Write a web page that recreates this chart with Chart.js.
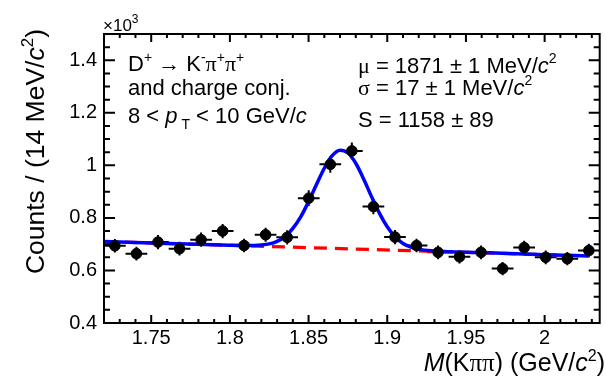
<!DOCTYPE html>
<html><head><meta charset="utf-8">
<script src="https://cdn.jsdelivr.net/npm/chart.js@4/dist/chart.umd.min.js"></script>
<style>html,body{margin:0;padding:0;background:#fff}#wrap{width:606px;height:380px}</style>
</head><body><div id="wrap"><canvas id="c" width="606" height="380"></canvas></div>
<script>
// ---- data ----
const massCenters = [1.7269,1.7406,1.7543,1.7680,1.7817,1.7954,1.8090,1.8227,1.8364,1.8501,1.8638,1.8775,1.8912,1.9049,1.9186,1.9323,1.9459,1.9596,1.9733,1.9870,2.0007,2.0144,2.0281];
const counts      = [0.694,0.664,0.708,0.683,0.717,0.750,0.695,0.736,0.726,0.875,1.004,1.055,0.843,0.727,0.695,0.669,0.652,0.669,0.607,0.687,0.650,0.645,0.676];
const countErr    = [0.026,0.026,0.027,0.026,0.027,0.027,0.026,0.027,0.027,0.030,0.032,0.032,0.029,0.027,0.026,0.026,0.026,0.026,0.025,0.026,0.026,0.025,0.026];
const binHalf = 0.0069;
const fitMass  = [1.720,1.760,1.800,1.810,1.820,1.825,1.830,1.835,1.840,1.845,1.850,1.855,1.860,1.865,1.870,1.875,1.880,1.885,1.890,1.895,1.900,1.905,1.910,1.920,1.930,1.960,2.000,2.028];
const fitTotal = [0.710,0.703,0.696,0.695,0.697,0.701,0.711,0.729,0.760,0.804,0.862,0.927,0.989,1.037,1.058,1.047,1.008,0.948,0.881,0.818,0.766,0.728,0.703,0.681,0.674,0.668,0.660,0.655];
const bgMass   = [1.720,2.028];
const bgValues = [0.710,0.655];
const xTickValues = [1.75,1.8,1.85,1.9,1.95,2.0];
const yTickValues = [0.4,0.6,0.8,1.0,1.2,1.4];

const SANS = '"Liberation Sans", Arial, "DejaVu Sans", sans-serif';
const SERIF = '"Liberation Serif", "DejaVu Serif", serif';

function rich(ctx, x, y, segs, align){
  let w = 0;
  segs.forEach(s => { ctx.font = s[1]; w += ctx.measureText(s[0]).width; });
  let cx = align === 'right' ? x - w : x;
  segs.forEach(s => { ctx.font = s[1]; ctx.fillText(s[0], cx, y + (s[2] || 0)); cx += ctx.measureText(s[0]).width; });
}

const decor = {
  id: 'decor',
  beforeDatasetsDraw(chart){
    const {ctx, scales:{x, y}} = chart;
    ctx.save();
    ctx.strokeStyle = '#000'; ctx.lineWidth = 2;
    massCenters.forEach((m, i) => {
      const px = x.getPixelForValue(m), py = y.getPixelForValue(counts[i]);
      const x0 = x.getPixelForValue(m - binHalf), x1 = x.getPixelForValue(m + binHalf);
      const y0 = y.getPixelForValue(counts[i] - countErr[i]), y1 = y.getPixelForValue(counts[i] + countErr[i]);
      ctx.beginPath();
      ctx.moveTo(x0, py); ctx.lineTo(x1, py);
      ctx.moveTo(px, y0); ctx.lineTo(px, y1);
      ctx.stroke();
    });
    ctx.restore();
  },
  afterDraw(chart){
    const {ctx, chartArea:a, scales:{x, y}} = chart;
    ctx.save();
    ctx.strokeStyle = '#000'; ctx.lineWidth = 2;
    ctx.strokeRect(a.left, a.top, a.right - a.left, a.bottom - a.top);
    ctx.beginPath();
    for (let k = 172; k <= 203; k++){
      const v = k / 100, px = x.getPixelForValue(v);
      const major = (k % 5 === 0);
      const L = major ? 8 : 4;
      ctx.moveTo(px, a.bottom); ctx.lineTo(px, a.bottom - L);
      ctx.moveTo(px, a.top); ctx.lineTo(px, a.top + L);
    }
    for (let k = 8; k <= 30; k++){
      const v = k * 0.05, py = y.getPixelForValue(v);
      const major = (k % 4 === 0);
      const L = major ? 11 : 6;
      ctx.moveTo(a.left, py); ctx.lineTo(a.left + L, py);
      ctx.moveTo(a.right, py); ctx.lineTo(a.right - L, py);
    }
    ctx.stroke();

    ctx.fillStyle = '#000';
    ctx.textBaseline = 'alphabetic';
    ctx.textAlign = 'left';
    const F = '22px ' + SANS, FI = 'italic 22px ' + SANS, FG = '22px ' + SERIF, FS = '14px ' + SANS;
    rich(ctx, 103, 31, [['×10', '17px ' + SANS], ['3', '12px ' + SANS, -8]]);
    rich(ctx, 128, 71, [['D', F], ['+', FS, -9], [' → K', F], ['-', FS, -9], ['π', FG], ['+', FS, -9], ['π', FG], ['+', FS, -9]]);
    rich(ctx, 128, 95, [['and charge conj.', F]]);
    rich(ctx, 128, 123, [['8 < ', F], ['p', FI], [' T', FS, 6], [' < 10 GeV/', F], ['c', FI]]);
    rich(ctx, 358, 73, [['μ', FG], [' = 1871 ± 1 MeV/', F], ['c', FI], ['2', FS, -10]]);
    rich(ctx, 358, 95, [['σ', FG], [' = 17 ± 1 MeV/', F], ['c', FI], ['2', FS, -10]]);
    rich(ctx, 358, 127, [['S = 1158 ± 89', F]]);
    const T = '25px ' + SANS, TI = 'italic 25px ' + SANS, TS = '16px ' + SANS;
    rich(ctx, 605, 371, [['M', TI], ['(K', T], ['ππ', '25px ' + SERIF], [') (GeV/', T], ['c', TI], ['2', TS, -10], [')', T]], 'right');
    const Y = '26.5px ' + SANS, YI = 'italic 26.5px ' + SANS, YS = '17px ' + SANS;
    ctx.translate(44, 29);
    ctx.rotate(-Math.PI / 2);
    rich(ctx, 0, 0, [['Counts / (14 MeV/', Y], ['c', YI], ['2', YS, -11], [')', Y]], 'right');
    ctx.restore();
  }
};

const fmt = v => String(+Number(v).toFixed(2));

new Chart(document.getElementById('c'), {
  type: 'scatter',
  data: {
    datasets: [
      { label: 'data', data: massCenters.map((m, i) => ({x: m, y: counts[i]})),
        backgroundColor: '#000', borderColor: '#000', pointRadius: 5.3, pointHoverRadius: 5.3, showLine: false, order: 0 },
      { label: 'fit', data: fitMass.map((m, i) => ({x: m, y: fitTotal[i]})), type: 'line',
        borderColor: '#0000ff', borderWidth: 3.5, pointRadius: 0, cubicInterpolationMode: 'monotone', fill: false, order: 1 },
      { label: 'bkg', data: bgMass.map((m, i) => ({x: m, y: bgValues[i]})), type: 'line',
        borderColor: '#ff0000', borderWidth: 3.2, borderDash: [13, 8], pointRadius: 0, fill: false, order: 2 }
    ]
  },
  options: {
    responsive: false, devicePixelRatio: 1, animation: false,
    layout: { padding: { top: 34, right: 1, bottom: 0, left: 0 } },
    plugins: { legend: { display: false }, tooltip: { enabled: false } },
    scales: {
      x: { type: 'linear', min: 1.72, max: 2.035,
        afterBuildTicks: s => { s.ticks = xTickValues.map(v => ({value: v})); },
        afterFit: s => { s.height = 57; },
        ticks: { callback: fmt, color: '#000', font: { family: SANS, size: 20 }, padding: 3, maxRotation: 0, autoSkip: false },
        grid: { display: false, drawTicks: false }, border: { display: false } },
      y: { type: 'linear', min: 0.4, max: 1.5,
        afterBuildTicks: s => { s.ticks = yTickValues.map(v => ({value: v})); },
        afterFit: s => { s.width = 104; },
        ticks: { callback: fmt, color: '#000', font: { family: SANS, size: 20 }, padding: 7, autoSkip: false },
        grid: { display: false, drawTicks: false }, border: { display: false } }
    }
  },
  plugins: [decor]
});
</script>
</body></html>
